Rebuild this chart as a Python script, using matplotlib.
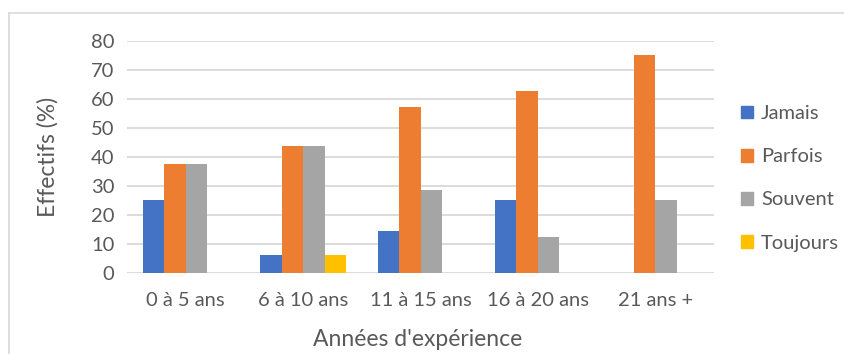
import matplotlib
matplotlib.use("Agg")
import matplotlib.pyplot as plt
import numpy as np
from matplotlib.lines import Line2D

plt.rcParams['font.family'] = ['Lato', 'DejaVu Sans']

categories = ["0 à 5 ans", "6 à 10 ans", "11 à 15 ans", "16 à 20 ans", "21 ans +"]
series_names = ["Jamais", "Parfois", "Souvent", "Toujours"]
jamais = [25.0, 6.25, 14.3, 25.0, 0.0]
parfois = [37.5, 43.75, 57.1, 62.5, 75.0]
souvent = [37.5, 43.75, 28.6, 12.5, 25.0]
toujours = [0.0, 6.25, 0.0, 0.0, 0.0]
colors = ["#4472C4", "#ED7D31", "#A5A5A5", "#FFC000"]
yticks = [0, 10, 20, 30, 40, 50, 60, 70, 80]

W, H = 844, 354
fig = plt.figure(figsize=(W / 100, H / 100), dpi=100)
ax = fig.add_axes([127 / W, 1 - 273 / H, (714 - 127) / W, (273 - 40.5) / H])

n = len(series_names)
bw = 0.183
x = np.arange(len(categories))
for i, (vals, name, c) in enumerate(zip([jamais, parfois, souvent, toujours], series_names, colors)):
    ax.bar(x + (i - (n - 1) / 2) * bw, vals, width=bw, color=c, label=name, zorder=3)

ax.set_xlim(-0.5, len(categories) - 0.5)
ax.set_ylim(0, 80)
ax.set_yticks(yticks)
ax.set_xticks(x)
ax.set_xticklabels(categories)
ax.grid(axis='y', color='#D9D9D9', linewidth=1.3, zorder=0)
for s in ax.spines.values():
    s.set_visible(False)
ax.tick_params(axis='both', length=0, labelsize=14.5, colors='#595959')
ax.tick_params(axis='y', pad=9)
ax.tick_params(axis='x', pad=14)

fig.text(48 / W, 1 - 157 / H, "Effectifs (%)", rotation=90, ha='center', va='center',
         fontsize=16.5, color='#595959')
fig.text(418 / W, 1 - 340 / H, "Années d'expérience", ha='center', va='center',
         fontsize=16.5, color='#595959')

handles = [plt.Rectangle((0, 0), 1, 1, color=c) for c in colors]
leg = fig.legend(handles, series_names, loc='upper left', bbox_to_anchor=(733 / W, 1 - 97 / H),
                 frameon=False, fontsize=14.5, handlelength=0.6, handleheight=0.6,
                 handletextpad=0.4, labelspacing=1.3, borderaxespad=0)
for t in leg.get_texts():
    t.set_color('#595959')

# light chart frame (top and left edges)
fig.add_artist(Line2D([8.5 / W, 1], [1 - 12.5 / H, 1 - 12.5 / H], transform=fig.transFigure,
                      color='#D9D9D9', linewidth=1.2))
fig.add_artist(Line2D([8.5 / W, 8.5 / W], [0, 1 - 12.5 / H], transform=fig.transFigure,
                      color='#D9D9D9', linewidth=1.2))

fig.savefig("out.png", dpi=100)
